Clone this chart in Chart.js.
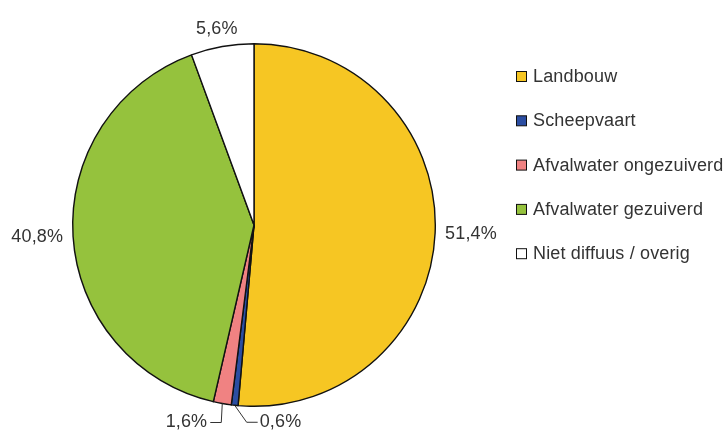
<!DOCTYPE html>
<html>
<head>
<meta charset="utf-8">
<script src="https://cdn.jsdelivr.net/npm/chart.js@4/dist/chart.umd.min.js"></script>
<style>
	html, body { margin: 0; padding: 0; background: #fff; }
	#wrap { width: 728px; height: 434px; position: relative; }
</style>
</head>
<body>
<div id="wrap"><canvas id="pie"></canvas></div>
<script>
( function () {
	'use strict';

	var categories = [ 'Landbouw', 'Scheepvaart', 'Afvalwater ongezuiverd', 'Afvalwater gezuiverd', 'Niet diffuus / overig' ];
	var shares = [ 51.4, 0.6, 1.6, 40.8, 5.6 ];
	var sliceLabels = [ '51,4%', '0,6%', '1,6%', '40,8%', '5,6%' ];
	var colors = [ '#f6c623', '#2b4ea2', '#f08282', '#95c23d', '#ffffff' ];

	var font = '18px "Liberation Sans", Arial, sans-serif';
	var textColor = '#333';

	// labels, leader lines and legend drawn by hand
	var decor = {
		id: 'decor',
		afterDraw: function ( chart ) {
			var ctx = chart.ctx;
			var arcs = chart.getDatasetMeta( 0 ).data;
			ctx.save();
			ctx.font = font;
			ctx.letterSpacing = '0.15px';
			ctx.fillStyle = textColor;
			ctx.textBaseline = 'middle';
			ctx.strokeStyle = '#333';
			ctx.lineWidth = 1;

			arcs.forEach( function ( arc, i ) {
				var mid = ( arc.startAngle + arc.endAngle ) / 2;
				var cx = arc.x, cy = arc.y, r = arc.outerRadius;
				var ex = cx + Math.cos( mid ) * r;
				var ey = cy + Math.sin( mid ) * r;
				if ( shares[ i ] < 1 ) {
					ctx.beginPath();
					ctx.moveTo( ex, ey );
					ctx.lineTo( ex + 12, ey + 17 );
					ctx.lineTo( ex + 23, ey + 17 );
					ctx.stroke();
					ctx.textAlign = 'left';
					ctx.fillText( sliceLabels[ i ], ex + 25, ey + 17 );
				} else if ( shares[ i ] < 2 ) {
					ctx.beginPath();
					ctx.moveTo( ex, ey );
					ctx.lineTo( ex - 1, ey + 19 );
					ctx.lineTo( ex - 12, ey + 19 );
					ctx.stroke();
					ctx.textAlign = 'right';
					ctx.fillText( sliceLabels[ i ], ex - 15, ey + 19 );
				} else {
					var w = ctx.measureText( sliceLabels[ i ] ).width;
					var px = cx + Math.cos( mid ) * ( r + 10 );
					var py = cy + Math.sin( mid ) * ( r + 10 );
					ctx.textAlign = 'center';
					ctx.fillText( sliceLabels[ i ], px + Math.cos( mid ) * w / 2, py + Math.sin( mid ) * 8 );
				}
			} );

			// legend
			ctx.textAlign = 'left';
			categories.forEach( function ( name, i ) {
				var y = 77 + i * 44.3;
				ctx.fillStyle = colors[ i ];
				ctx.fillRect( 516.5, y - 5.5, 10, 10 );
				ctx.strokeStyle = '#111';
				ctx.strokeRect( 516.5, y - 5.5, 10, 10 );
				ctx.fillStyle = textColor;
				ctx.fillText( name, 533, y );
			} );
			ctx.restore();
		},
	};

	new Chart( document.getElementById( 'pie' ).getContext( '2d' ), {
		type: 'pie',
		data: {
			labels: categories,
			datasets: [ {
				data: shares,
				backgroundColor: colors,
				borderColor: '#111',
				borderWidth: 1.4,
				borderJoinStyle: 'miter',
			} ],
		},
		options: {
			responsive: true,
			maintainAspectRatio: false,
			animation: false,
			layout: { padding: { left: 72, right: 292, top: 43, bottom: 27 } },
			plugins: {
				legend: { display: false },
				tooltip: { enabled: false },
			},
		},
		plugins: [ decor ],
	} );
} )();
</script>
</body>
</html>
